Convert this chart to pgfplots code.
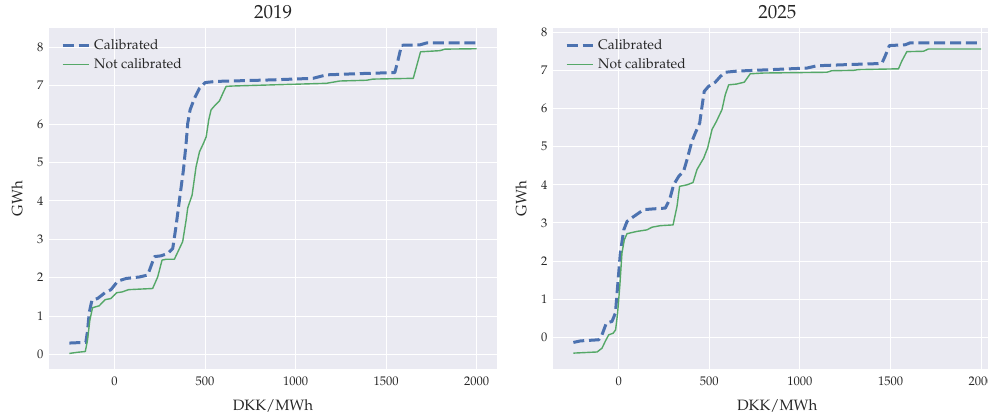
\documentclass[border=0pt]{standalone}
\usepackage[T1]{fontenc}
\usepackage{mathpazo}
\usepackage{pgfplots}
\pgfplotsset{compat=1.18}
\definecolor{bgc}{HTML}{EAEAF2}
\definecolor{sbblue}{HTML}{4C72B0}
\definecolor{sbgreen}{HTML}{55A868}
\definecolor{txt}{HTML}{262626}
\pgfplotsset{
  panel/.style={
    scale only axis, width=448pt, height=341pt,
    anchor=south west,
    axis background/.style={fill=bgc},
    axis line style={draw=none},
    grid=major, major grid style={white, line width=1pt},
    tick style={draw=none},
    xmin=-362.5, xmax=2112.5,
    xtick={0,500,1000,1500,2000},
    ytick={0,1,2,3,4,5,6,7,8},
    /pgf/number format/1000 sep={},
    ticklabel style={font=\fontsize{12.5}{14}\selectfont, text=txt},
    xticklabel style={yshift=-4pt},
    yticklabel style={xshift=-2pt},
    xlabel={DKK/MWh}, ylabel={GWh},
    xlabel style={at={(axis description cs:0.5,0)}, anchor=center, yshift=-37pt, font=\fontsize{15}{18}\selectfont, text=txt},
    ylabel style={at={(axis description cs:0,0.5)}, anchor=center, yshift=32pt, font=\fontsize{15}{18}\selectfont, text=txt},
    title style={at={(axis description cs:0.5,1)}, anchor=base, yshift=3.5pt, font=\fontsize{19}{22}\selectfont, text=txt},
    legend style={draw=none, fill=none, at={(axis description cs:0,1)}, anchor=north west, xshift=9pt, yshift=-7.5pt,
      font=\fontsize{13.8}{16}\selectfont, text=txt, row sep=3.4pt, column sep=2pt},
    legend cell align=left,
    legend image code/.code={\draw[#1] (0pt,0pt) -- (26pt,0pt);},
  },
  cal/.style={sbblue, line width=3pt, dash pattern=on 11pt off 4.8pt, line join=round},
  ncal/.style={sbgreen, line width=1.4pt, line join=round},
}
\begin{document}
\begin{tikzpicture}
\useasboundingbox (0,0) rectangle (988pt,414pt);
\begin{axis}[panel, at={(49pt,45pt)}, ymin=-0.375, ymax=8.5, title={2019}]
\addplot[cal] coordinates {
(-250,0.30) (-159,0.32) (-150,0.6) (-140,1.1) (-125,1.42) (-94,1.46) (-48,1.63) (-20,1.69) (17,1.91) (63,1.98)
(137,2.02) (183,2.07) (220,2.55) (256,2.57) (293,2.63) (321,2.76) (339,3.33) (358,4.02) (380,4.80)
(395,5.50) (404,6.02) (417,6.37) (441,6.67) (469,6.93) (500,7.08) (561,7.11) (875,7.15) (1096,7.19)
(1170,7.28) (1336,7.31) (1548,7.34) (1566,7.67) (1585,8.05) (1686,8.06) (1723,8.11) (2000,8.11)
};
\addlegendentry{Calibrated}
\addplot[ncal] coordinates {
(-250,0.03) (-205,0.06) (-162,0.08) (-150,0.37) (-137,0.89) (-122,1.22) (-85,1.27) (-52,1.43) (-20,1.46)
(11,1.61) (41,1.63) (77,1.69) (210,1.72) (238,2.02) (262,2.46) (284,2.48) (330,2.48) (376,2.94)
(395,3.50) (404,3.82) (428,4.15) (450,4.89) (469,5.28) (491,5.50) (506,5.67) (520,6.11) (533,6.37)
(557,6.50) (579,6.60) (598,6.80) (616,6.98) (653,6.99) (1170,7.06) (1244,7.12) (1391,7.14) (1428,7.17)
(1650,7.19) (1668,7.50) (1690,7.88) (1797,7.91) (1825,7.95) (2000,7.96)
};
\addlegendentry{Not calibrated}
\end{axis}
\begin{axis}[panel, at={(553pt,45pt)}, width=448.5pt, ymin=-0.826, ymax=8.11, title={2025}]
\addplot[cal] coordinates {
(-250,-0.13) (-211,-0.09) (-110,-0.06) (-92,0.07) (-68,0.38) (-37,0.42) (-18,0.64) (-6,1.34) (9,2.21)
(28,2.82) (46,3.04) (83,3.17) (138,3.35) (193,3.37) (257,3.39) (281,3.61) (303,4.00) (331,4.22)
(358,4.35) (377,4.66) (404,5.14) (423,5.36) (447,5.62) (460,6.06) (472,6.45) (496,6.58) (533,6.69)
(561,6.84) (588,6.95) (652,6.98) (1039,7.06) (1094,7.12) (1259,7.15) (1452,7.18) (1470,7.37)
(1494,7.65) (1581,7.67) (1608,7.72) (2000,7.72)
};
\addlegendentry{Calibrated}
\addplot[ncal] coordinates {
(-250,-0.41) (-119,-0.38) (-92,-0.28) (-74,-0.10) (-55,0.07) (-31,0.11) (-17,0.20) (-6,0.64) (6,1.34)
(18,2.21) (31,2.56) (46,2.72) (101,2.78) (156,2.82) (184,2.89) (230,2.93) (300,2.95) (322,3.44)
(336,3.96) (377,4.00) (410,4.06) (432,4.40) (469,4.70) (491,4.97) (515,5.45) (539,5.66) (570,5.97)
(588,6.36) (607,6.62) (649,6.64) (693,6.69) (726,6.91) (800,6.93) (1149,6.95) (1176,6.99) (1296,7.00)
(1323,7.02) (1544,7.04) (1562,7.24) (1590,7.49) (1682,7.50) (1709,7.56) (2000,7.56)
};
\addlegendentry{Not calibrated}
\end{axis}
\end{tikzpicture}
\end{document}
